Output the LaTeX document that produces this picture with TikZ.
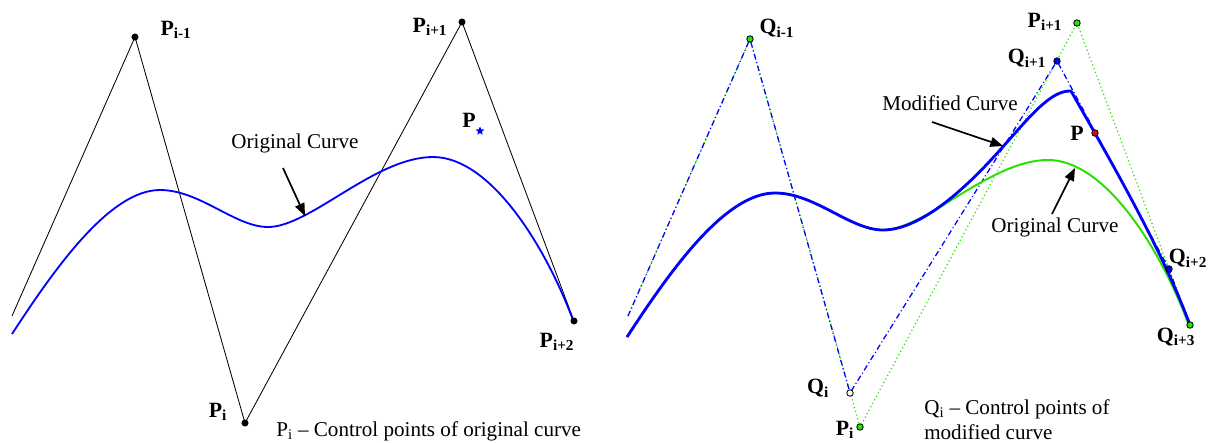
\documentclass[tikz,border=0pt]{standalone}
\usepackage{fontspec}
\setmainfont{Liberation Serif}
\usetikzlibrary{arrows.meta,shapes.geometric}
\definecolor{CurveBlue}{RGB}{0,0,255}
\definecolor{CurveGreen}{RGB}{40,225,0}
\definecolor{MarkRed}{RGB}{220,0,40}

% original B-spline curve, in pixel units of the left panel
\newcommand{\origcurve}{(12,334) .. controls (55,268) and (110,190) .. (160,190)
  .. controls (200,190) and (235,227) .. (268,227)
  .. controls (310,227) and (375,157) .. (433,157)
  .. controls (490,157) and (545,245) .. (573,320)}

\begin{document}
\begin{tikzpicture}[
  x=0.025cm, y=-0.025cm,
  ctrlpoly/.style={black, line width=0.6pt, line join=round},
  modpoly/.style={CurveBlue, line width=0.9pt, dash pattern=on 4pt off 2pt on 0.7pt off 2pt},
  origpoly/.style={CurveGreen, line width=0.9pt, dash pattern=on 0.8pt off 2pt},
  leftcurve/.style={CurveBlue, line width=1.3pt},
  greencurve/.style={CurveGreen, line width=1.4pt},
  modcurve/.style={CurveBlue, line width=2pt, line join=round},
  ptdot/.style={circle, fill=black, inner sep=0pt, minimum size=5pt},
  mk/.style={circle, draw=black, line width=0.6pt, inner sep=0pt, minimum size=4.6pt},
  pstarmk/.style={star, star points=5, star point ratio=2.2, fill=CurveBlue, inner sep=0pt, minimum size=6.5pt},
  lbl/.style={font=\fontsize{15.5}{18}\selectfont\bfseries, inner sep=0pt},
  txt/.style={font=\fontsize{15}{17.7}\selectfont, inner sep=0pt},
  arr/.style={-{Triangle[length=9pt,width=7pt]}, line width=1.2pt, black}
]
\fill[white] (0,0) rectangle (1213,442);
\useasboundingbox (0,0) rectangle (1213,442);

% --- Left panel: control polygon of the original curve
\coordinate (Ls)   at (12,316);
\coordinate (Pim1) at (135,37);
\coordinate (Pi)   at (245,423);
\coordinate (Pip1) at (462,22);
\coordinate (Pip2) at (574,321);
\draw[ctrlpoly] (Ls) -- (Pim1) -- (Pi) -- (Pip1) -- (Pip2);
\draw[leftcurve] \origcurve;

\node[ptdot] (mPim1) at (Pim1) {};
\node[ptdot] (mPi)   at (Pi)   {};
\node[ptdot] (mPip1) at (Pip1) {};
\node[ptdot] (mPip2) at (Pip2) {};
\node[pstarmk] (mPstar) at (480,131) {};

\node[lbl] (lPim1)  at (176,30)  {P\textsubscript{i-1}};
\node[lbl] (lPi)    at (218,412) {P\textsubscript{i}};
\node[lbl] (lPip1)  at (430,27)  {P\textsubscript{i+1}};
\node[lbl] (lPip2)  at (557,342) {P\textsubscript{i+2}};
\node[lbl] (lPstar) at (469,120) {P};

\node[txt] (lOrigL) at (295,143) {Original Curve};
\coordinate (aOrigLt) at (283,168);
\coordinate (aOrigLh) at (305,216);
\draw[arr] (aOrigLt) -- (aOrigLh);

\node[txt, anchor=west] (capL) at (276,431) {P\textsubscript{i} – Control points of original curve};

% --- Right panel: original and modified control polygons
\coordinate (Rs)    at (628,316);
\coordinate (Qim1)  at (750,39);
\coordinate (Qi)    at (850,393);
\coordinate (RPi)   at (860,427);
\coordinate (Qip1)  at (1057,61);
\coordinate (RPip1) at (1077,23);
\coordinate (Pmod)  at (1095,133);
\coordinate (Qip2)  at (1169,269);
\coordinate (Qip3)  at (1190,325);
\draw[origpoly] (Rs) -- (Qim1) -- (RPi) -- (RPip1) -- (Qip3);
\draw[modpoly]  (Rs) -- (Qim1) -- (Qi) -- (Qip1) -- (Qip2) -- (Qip3);

% --- Right panel: curves
\begin{scope}[shift={(615,3)}]
  \draw[greencurve] \origcurve;
\end{scope}
\draw[modcurve] (627,337) .. controls (670,271) and (725,193) .. (775,193)
  .. controls (815,193) and (850,230) .. (883,230)
  .. controls (925,230) and (975,178) .. (1000,150)
  .. controls (1028,119) and (1050,90) .. (1071,91)
  .. controls (1110,160) and (1160,245) .. (1190,325);

% --- Right panel: markers
\node[mk, fill=CurveGreen] (mQim1)  at (Qim1)  {};
\node[mk, fill=white]      (mQi)    at (Qi)    {};
\node[mk, fill=CurveGreen] (mRPi)   at (RPi)   {};
\node[mk, fill=CurveBlue]  (mQip1)  at (Qip1)  {};
\node[mk, fill=CurveGreen] (mRPip1) at (RPip1) {};
\node[mk, fill=MarkRed]    (mPmod)  at (Pmod)  {};
\node[mk, fill=CurveBlue]  (mQip2)  at (Qip2)  {};
\node[mk, fill=CurveGreen] (mQip3)  at (Qip3)  {};

\node[lbl] (lQim1)  at (777,28)   {Q\textsubscript{i-1}};
\node[lbl] (lQi)    at (818,388)  {Q\textsubscript{i}};
\node[lbl] (lRPi)   at (845,430)  {P\textsubscript{i}};
\node[lbl] (lQip1)  at (1027,58)  {Q\textsubscript{i+1}};
\node[lbl] (lRPip1) at (1045,22)  {P\textsubscript{i+1}};
\node[lbl] (lPmod)  at (1077,133) {P};
\node[lbl] (lQip2)  at (1188,258) {Q\textsubscript{i+2}};
\node[lbl] (lQip3)  at (1176,337) {Q\textsubscript{i+3}};

\node[txt] (lMod) at (950,103) {Modified Curve};
\coordinate (aModt) at (932,122);
\coordinate (aModh) at (1003,146);
\draw[arr] (aModt) -- (aModh);

\node[txt] (lOrigR) at (1055,227) {Original Curve};
\coordinate (aOrigRt) at (1052,214);
\coordinate (aOrigRh) at (1075,168);
\draw[arr] (aOrigRt) -- (aOrigRh);

\node[txt, anchor=west, align=left] (capR) at (924,420) {Q\textsubscript{i} – Control points of\\modified curve};

\end{tikzpicture}
\end{document}
